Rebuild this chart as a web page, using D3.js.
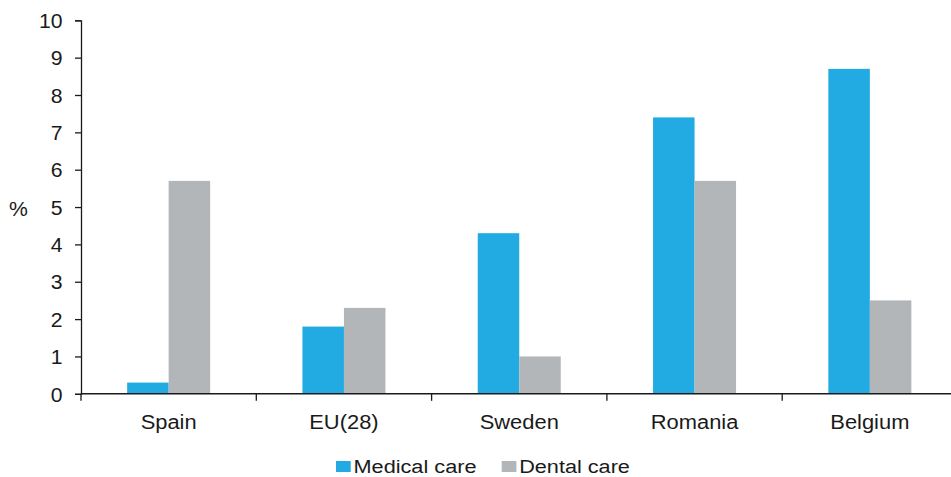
<!DOCTYPE html>
<html>
<head>
<meta charset="utf-8">
<script src="https://cdn.jsdelivr.net/npm/d3@7"></script>
<style>
  html, body { margin: 0; padding: 0; background: #fff; }
  svg text { font-family: "Liberation Sans", Arial, sans-serif; fill: #1a1a1a; }
</style>
</head>
<body>
<svg id="chart" width="951" height="477"></svg>
<script>
// Share of population reporting unmet need, by care type (%)
const categories = ["Spain", "EU(28)", "Sweden", "Romania", "Belgium"];
const seriesNames = ["Medical care", "Dental care"];
const medicalCare = [0.3, 1.8, 4.3, 7.4, 8.7];
const dentalCare = [5.7, 2.3, 1.0, 5.7, 2.5];
const yTicks = [0, 1, 2, 3, 4, 5, 6, 7, 8, 9, 10];
const colors = ["#22abe2", "#b3b6b8"];

const svg = d3.select("#chart");
const plotLeft = 81, plotRight = 957.5, plotTop = 20.3, plotBottom = 393.8;

// the chart's typeface is set slightly wide; widen glyphs by a factor
function widen(sel, factor) {
  sel.each(function () {
    const w = this.getComputedTextLength();
    d3.select(this).attr("textLength", w * factor).attr("lengthAdjust", "spacingAndGlyphs");
  });
}

const x = d3.scaleBand().domain(categories).range([plotLeft, plotRight]).paddingInner(0).paddingOuter(0);
const xSub = d3.scaleBand().domain(seriesNames).range([0, 83]);
const y = d3.scaleLinear().domain([0, 10]).range([plotBottom, plotTop]);

const rows = categories.map((c, i) => ({ cat: c, values: [medicalCare[i], dentalCare[i]] }));

// bars
const groups = svg.append("g").selectAll("g").data(rows).join("g")
  .attr("transform", d => `translate(${x(d.cat) + (x.bandwidth() - 83) / 2},0)`);
groups.selectAll("rect")
  .data(d => d.values.map((v, k) => ({ key: seriesNames[k], v, k })))
  .join("rect")
  .attr("x", d => xSub(d.key))
  .attr("width", xSub.bandwidth())
  .attr("y", d => y(d.v))
  .attr("height", d => plotBottom - y(d.v))
  .attr("fill", d => colors[d.k]);

// y axis
const yAxis = svg.append("g").attr("transform", `translate(${plotLeft},0)`)
  .call(d3.axisLeft(y).tickValues(yTicks).tickFormat(d3.format("d")).tickSize(6).tickPadding(12.5));
yAxis.select(".domain").attr("stroke", "#1a1a1a").attr("stroke-width", 1.3);
yAxis.selectAll(".tick line").attr("stroke", "#1a1a1a").attr("stroke-width", 1.3);
yAxis.selectAll(".tick text").attr("font-size", 20).attr("dy", "0.36em")
  .style("font-family", "'Liberation Sans', Arial, sans-serif").style("fill", "#1a1a1a")
  .call(widen, 1.06);

// x axis with ticks between categories
const xAxis = svg.append("g").attr("transform", `translate(0,${plotBottom})`);
xAxis.append("line").attr("x1", plotLeft).attr("x2", 951).attr("y1", 0).attr("y2", 0)
  .attr("stroke", "#1a1a1a").attr("stroke-width", 1.5);
const boundaries = categories.map(c => x(c)).concat([x(categories[categories.length - 1]) + x.bandwidth()]);
xAxis.selectAll("line.sep").data(boundaries.filter(b => b <= 951)).join("line")
  .attr("class", "sep")
  .attr("x1", d => d).attr("x2", d => d).attr("y1", 0).attr("y2", 7)
  .attr("stroke", "#1a1a1a").attr("stroke-width", 1.3);
xAxis.selectAll("text").data(categories).join("text")
  .attr("x", d => x(d) + x.bandwidth() / 2)
  .attr("y", 35)
  .attr("text-anchor", "middle")
  .attr("font-size", 20)
  .text(d => d)
  .call(widen, 1.095);

// y axis unit label
svg.append("text").attr("x", 18.5).attr("y", 215.5).attr("text-anchor", "middle")
  .attr("font-size", 20).text("%").call(widen, 1.06);

// legend
const legendItems = [
  { name: seriesNames[0], x: 336, len: 123 },
  { name: seriesNames[1], x: 501.7, len: 110.7 }
];
const lg = svg.append("g").selectAll("g").data(legendItems).join("g")
  .attr("transform", d => `translate(${d.x},461)`);
lg.append("rect").attr("width", 14.7).attr("height", 11).attr("fill", (d, i) => colors[i]);
lg.append("text").attr("x", 17.5).attr("y", 11.6).attr("font-size", 18)
  .attr("textLength", d => d.len).attr("lengthAdjust", "spacingAndGlyphs")
  .text(d => d.name);
</script>
</body>
</html>
